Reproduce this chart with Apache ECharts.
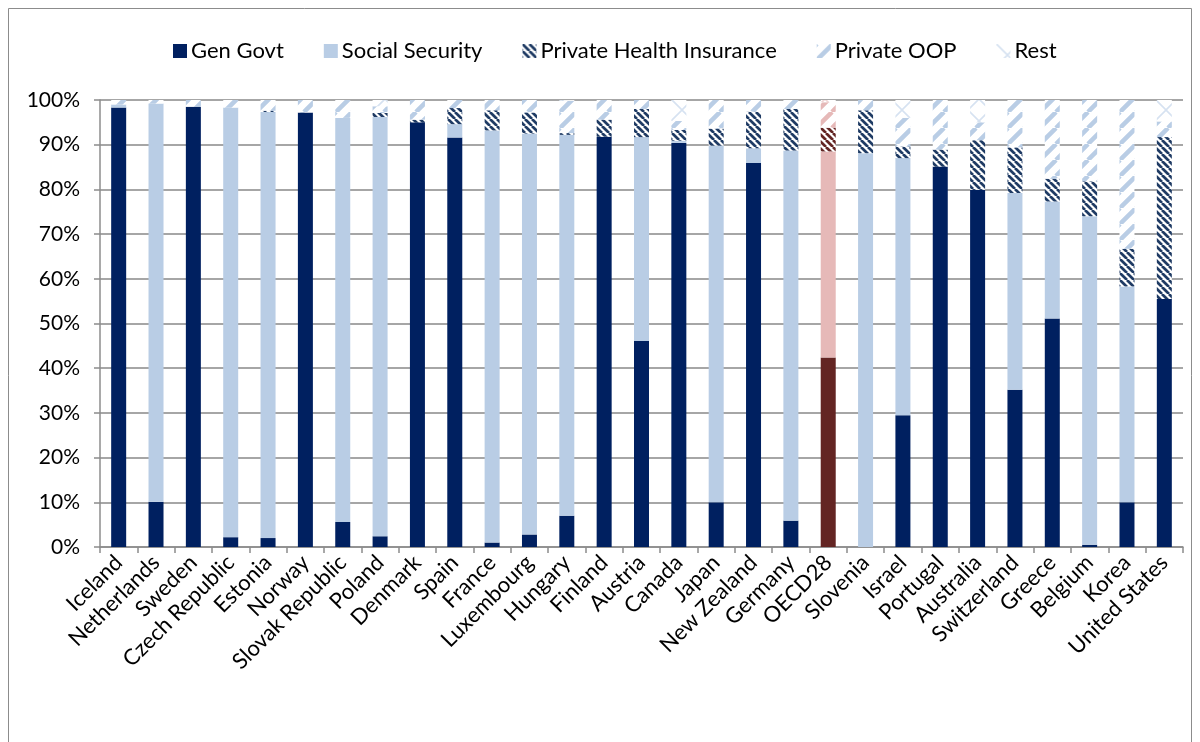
<!DOCTYPE html>
<html>
<head>
<meta charset="utf-8">
<script src="https://cdn.jsdelivr.net/npm/echarts@6/dist/echarts.min.js"></script>
<style>
  html, body { margin: 0; padding: 0; background: #ffffff; }
  #chart { width: 1200px; height: 742px; }
</style>
</head>
<body>
<div id="chart"></div>
<script>
// Health spending by financing source, share of total (%)
const countries = ['Iceland', 'Netherlands', 'Sweden', 'Czech Republic', 'Estonia', 'Norway',
  'Slovak Republic', 'Poland', 'Denmark', 'Spain', 'France', 'Luxembourg', 'Hungary', 'Finland',
  'Austria', 'Canada', 'Japan', 'New Zealand', 'Germany', 'OECD28', 'Slovenia', 'Israel',
  'Portugal', 'Australia', 'Switzerland', 'Greece', 'Belgium', 'Korea', 'United States'];

const genGovt = [98.3, 10.1, 98.5, 2.2, 2.0, 97.2, 5.6, 2.4, 95.0, 91.6, 1.0, 2.8, 7.0, 91.8,
  46.1, 90.4, 10.0, 85.9, 5.9, 42.4, 0, 29.5, 85.1, 79.9, 35.2, 51.1, 0.5, 10.0, 55.5];
const socialSecurity = [0.7, 89.1, 0, 96.1, 95.3, 0, 90.4, 93.8, 0, 3.0, 92.2, 89.7, 85.2, 0,
  45.6, 0.5, 79.8, 3.3, 82.8, 46.1, 88.1, 57.5, 0, 0, 44.0, 26.2, 73.5, 48.3, 0];
const privateHealthInsurance = [0, 0, 0, 0, 0.3, 0, 0, 0.9, 0.6, 3.6, 4.5, 4.7, 0.4, 3.8,
  6.3, 2.4, 3.8, 8.2, 9.3, 5.3, 9.6, 2.6, 3.8, 11.1, 10.2, 5.1, 7.8, 8.4, 36.2];
const privateOOP = [1.0, 0.8, 1.5, 1.7, 2.4, 2.8, 4.0, 1.5, 4.4, 1.8, 2.3, 2.8, 7.2, 4.4,
  2.0, 2.0, 6.4, 2.6, 2.0, 5.7, 2.3, 6.4, 11.1, 4.0, 10.6, 17.6, 18.2, 33.3, 3.5];
const rest = [0, 0, 0, 0, 0, 0, 0, 1.4, 0, 0, 0, 0, 0.2, 0,
  0, 4.7, 0, 0, 0, 0.5, 0, 4.0, 0, 5.0, 0, 0, 0, 0, 4.8];

const seriesNames = ['Gen Govt', 'Social Security', 'Private Health Insurance', 'Private OOP', 'Rest'];
const yTicks = [0, 10, 20, 30, 40, 50, 60, 70, 80, 90, 100];
const highlighted = 'OECD28';

// Hatch fills drawn on small tiles, repeated across the bars
function stripeTile(fg, bg, n, lw, dir) {
  const c = document.createElement('canvas');
  c.width = c.height = n;
  const g = c.getContext('2d');
  g.fillStyle = bg;
  g.fillRect(0, 0, n, n);
  g.strokeStyle = fg;
  g.lineWidth = lw;
  g.beginPath();
  for (let k = -1; k <= 1; k++) {
    if (dir === 'down') { g.moveTo(k * n, 0); g.lineTo(k * n + n, n); }
    else { g.moveTo(k * n, n); g.lineTo(k * n + n, 0); }
  }
  g.stroke();
  return { image: c, repeat: 'repeat' };
}
function latticeTile(fg, bg, n, lw) {
  const c = document.createElement('canvas');
  c.width = c.height = n;
  const g = c.getContext('2d');
  g.fillStyle = bg;
  g.fillRect(0, 0, n, n);
  g.strokeStyle = fg;
  g.lineWidth = lw;
  g.beginPath();
  for (let k = -1; k <= 1; k++) {
    g.moveTo(k * n, 0); g.lineTo(k * n + n, n);
    g.moveTo(k * n, n); g.lineTo(k * n + n, 0);
  }
  g.stroke();
  return { image: c, repeat: 'repeat' };
}

const blueFills = [
  '#002060',
  '#b9cde5',
  stripeTile('#1f3b64', '#ffffff', 7, 2.7, 'down'),
  stripeTile('#b9cde5', '#ffffff', 16, 4.5, 'up'),
  latticeTile('#d6e2f1', '#ffffff', 22, 1.6)
];
const redFills = [
  '#632523',
  '#e6b9b8',
  stripeTile('#632523', '#ffffff', 7, 2.7, 'down'),
  stripeTile('#e6b9b8', '#ffffff', 16, 4.5, 'up'),
  latticeTile('#f0d6d6', '#ffffff', 22, 1.6)
];

const values = [genGovt, socialSecurity, privateHealthInsurance, privateOOP, rest];

const series = values.map((arr, si) => ({
  name: seriesNames[si],
  type: 'bar',
  stack: 'total',
  barWidth: 15,
  itemStyle: { color: blueFills[si] },
  emphasis: { disabled: true },
  data: arr.map((v, i) => countries[i] === highlighted
    ? { value: v, itemStyle: { color: redFills[si] } }
    : v)
}));

const chart = echarts.init(document.getElementById('chart'), null, { renderer: 'canvas' });
chart.setOption({
  backgroundColor: '#ffffff',
  animation: false,
  textStyle: { fontFamily: 'Lato, "Open Sans", sans-serif' },
  graphic: [{
    type: 'rect',
    shape: { x: 8.5, y: 8.5, width: 1183, height: 740 },
    style: { fill: 'none', stroke: '#8c8c8c', lineWidth: 1 },
    silent: true,
    z: -10
  }],
  legend: {
    top: 35,
    left: 168,
    itemWidth: 14,
    itemHeight: 14,
    itemGap: 40,
    icon: 'rect',
    textStyle: { fontSize: 22, color: '#000000', fontFamily: 'Lato, sans-serif', padding: [0, 0, 0, -1] },
    data: seriesNames
  },
  grid: { left: 100, right: 17, top: 100, bottom: 195, containLabel: false },
  xAxis: {
    type: 'category',
    data: countries,
    axisLine: { lineStyle: { color: '#8c8c8c', width: 1.5 } },
    axisTick: { show: true, alignWithLabel: false, length: 6, lineStyle: { color: '#8c8c8c', width: 1.5 } },
    axisLabel: { interval: 0, rotate: 45, fontSize: 22, color: '#000000', margin: 12, fontFamily: 'Lato, sans-serif' }
  },
  yAxis: {
    type: 'value',
    min: yTicks[0],
    max: yTicks[yTicks.length - 1],
    interval: yTicks[1] - yTicks[0],
    axisLine: { show: true, lineStyle: { color: '#8c8c8c', width: 1.5 } },
    axisTick: { show: true, length: 6, lineStyle: { color: '#8c8c8c', width: 1.5 } },
    axisLabel: { formatter: '{value}%', fontSize: 21, color: '#000000', margin: 20, fontFamily: 'Lato, sans-serif' },
    splitLine: { show: true, lineStyle: { color: '#a6a6a6', width: 2 } }
  },
  series: series
});
</script>
</body>
</html>
